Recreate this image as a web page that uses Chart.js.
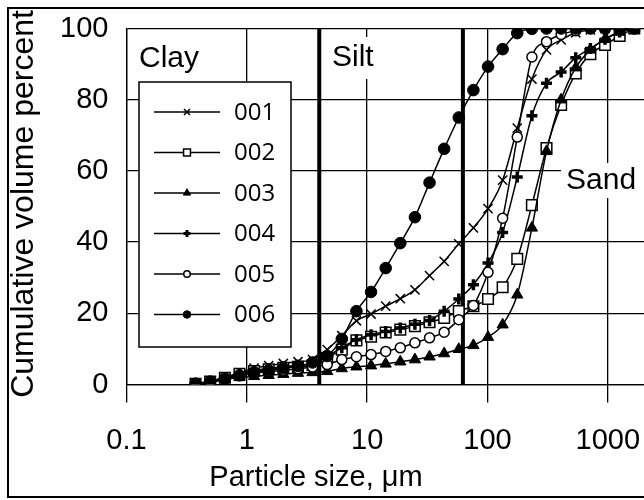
<!DOCTYPE html>
<html>
<head>
<meta charset="utf-8">
<script src="https://cdn.jsdelivr.net/npm/chart.js"></script>
<style>
  body { margin: 0; background: #fff; }
  #wrap { width: 644px; height: 500px; }
</style>
</head>
<body>
<div id="wrap"><canvas id="myChart" width="644" height="500"></canvas></div>
<script>
// particle size bins (um)
let sizes = [0.375, 0.496, 0.657, 0.869, 1.149, 1.52, 2.011, 2.66, 3.519, 4.655,
             6.158, 8.147, 10.78, 14.26, 18.86, 24.95, 33.01, 43.67, 57.77, 76.42,
             101.1, 133.7, 176.9, 234.1, 309.6, 409.6, 541.9, 716.8, 948.3, 1255, 1660];

// cumulative volume percent per sample
let s001 = [0.3, 0.9, 2.0, 3.3, 4.6, 5.3, 5.9, 6.4, 7.0, 9.8,
            13.7, 17.9, 19.8, 22.0, 24.1, 26.6, 30.6, 34.6, 39.5, 44.0,
            49.4, 57.4, 72.0, 85.8, 94.0, 96.8, 98.8, 99.6, 100, 100, 100];
let s002 = [0.2, 0.8, 1.9, 3.0, 3.8, 4.3, 4.7, 5.0, 5.4, 7.5,
            9.8, 12.4, 13.4, 14.6, 15.4, 16.4, 17.5, 18.7, 20.6, 22.0,
            24.0, 27.3, 35.3, 50.4, 66.4, 78.5, 87.4, 92.8, 95.4, 97.9, 100];
let s003 = [0.2, 0.6, 1.4, 2.0, 2.3, 2.6, 2.9, 3.2, 3.4, 3.7,
            4.5, 5.0, 5.3, 5.8, 6.4, 7.0, 7.8, 8.7, 9.9, 11.0,
            13.3, 16.8, 25.2, 44.0, 65.5, 80.0, 89.0, 94.0, 97.0, 99.0, 100];
let s004 = [0.2, 0.8, 1.9, 3.0, 3.9, 4.5, 5.0, 5.4, 5.8, 8.0,
            10.3, 12.6, 14.0, 14.9, 15.9, 16.9, 18.0, 20.6, 24.0, 28.0,
            34.1, 42.7, 58.3, 75.5, 84.6, 87.8, 91.8, 94.4, 97.0, 99.0, 100];
let s005 = [0.2, 0.7, 1.6, 2.5, 3.2, 3.6, 4.0, 4.4, 4.9, 5.6,
            7.0, 7.8, 8.4, 9.3, 10.3, 11.7, 13.1, 14.7, 18.2, 22.2,
            31.5, 46.7, 69.5, 92.0, 96.3, 98.3, 99.4, 100, 100, 100, 100];
let s006 = [0.2, 0.8, 1.7, 2.6, 3.4, 4.0, 4.6, 5.2, 6.2, 8.0,
            12.8, 20.6, 26.0, 32.7, 39.7, 47.0, 56.7, 66.2, 75.0, 82.7,
            89.3, 94.2, 98.7, 99.9, 100, 100, 100, 100, 100, 100, 100];

let seriesNames = ['001', '002', '003', '004', '005', '006'];
let boundaries = [4, 62.5];          // clay/silt and silt/sand limits, um
let zoneNames = ['Clay', 'Silt', 'Sand'];
let xTicks = [0.1, 1, 10, 100, 1000];
let xTitle = 'Particle size, \u03bcm';
let yTitle = 'Cumulative volume percent';

// marker look for each sample
let markers = [
  {style: 'crossRot', radius: 6.5, fill: '#000', bw: 1.5},
  {style: 'rect', radius: 7.5, fill: '#fff', bw: 1.5},
  {style: 'triangle', radius: 6.5, fill: '#000', bw: 1},
  {style: 'cross', radius: 5.5, fill: '#000', bw: 3.5},
  {style: 'circle', radius: 5, fill: '#fff', bw: 1.5},
  {style: 'circle', radius: 5.8, fill: '#000', bw: 1}
];

const FONT = "'Liberation Sans', Arial, sans-serif";

let allSeries = [s001, s002, s003, s004, s005, s006];
let datasets = [];

for (let b of boundaries) {
  datasets.push({
    label: 'limit',
    data: [{x: b, y: 0}, {x: b, y: 100}],
    borderColor: '#000',
    borderWidth: 4,
    pointRadius: 0,
    order: 10
  });
}

for (let i = 0; i < allSeries.length; i++) {
  let m = markers[i];
  datasets.push({
    label: seriesNames[i],
    data: sizes.map((s, k) => ({x: s, y: allSeries[i][k]})),
    borderColor: '#000',
    borderWidth: 1.5,
    cubicInterpolationMode: 'monotone',
    pointStyle: m.style,
    pointRadius: m.radius,
    pointBackgroundColor: m.fill,
    pointBorderColor: '#000',
    pointBorderWidth: m.bw,
    order: 6 - i
  });
}

const overlay = {
  id: 'overlay',
  afterDraw(chart) {
    const ctx = chart.ctx;
    ctx.save();

    // white boxes behind zone names
    ctx.fillStyle = '#fff';
    ctx.fillRect(329, 37, 52, 42);
    ctx.fillRect(561, 163, 90, 35);

    ctx.fillStyle = '#000';
    ctx.font = '30px ' + FONT;
    ctx.textBaseline = 'middle';
    ctx.textAlign = 'left';
    ctx.fillText(zoneNames[0], 139, 59);
    ctx.fillText(zoneNames[1], 332, 58);
    ctx.fillText(zoneNames[2], 566, 181);

    // legend box
    ctx.fillStyle = '#fff';
    ctx.fillRect(139, 82, 152, 265);
    ctx.strokeStyle = '#000';
    ctx.lineWidth = 1.5;
    ctx.strokeRect(139, 82, 152, 265);

    ctx.font = "24px 'Open Sans', sans-serif";
    for (let i = 0; i < seriesNames.length; i++) {
      let y = 112 + i * 40.5;
      let m = markers[i];
      ctx.strokeStyle = '#000';
      ctx.lineWidth = 1.5;
      ctx.beginPath();
      ctx.moveTo(154, y);
      ctx.lineTo(220, y);
      ctx.stroke();
      ctx.fillStyle = m.fill;
      ctx.lineWidth = m.style == 'cross' ? 3 : m.bw;
      Chart.helpers.drawPoint(ctx, {pointStyle: m.style, radius: m.radius * 0.65, rotation: 0, borderWidth: m.bw}, 187, y);
      ctx.fillStyle = '#000';
      ctx.fillText(seriesNames[i], 234, y + 1);
    }

    // axis titles
    ctx.font = '29px ' + FONT;
    ctx.textAlign = 'center';
    ctx.fillText(xTitle, 316, 478);

    ctx.translate(24, 204);
    ctx.rotate(-Math.PI / 2);
    ctx.font = '32px ' + FONT;
    ctx.fillText(yTitle, 0, 0);
    ctx.setTransform(1, 0, 0, 1, 0, 0);

    // outer frame
    ctx.strokeStyle = '#000';
    ctx.lineWidth = 2;
    ctx.strokeRect(8, 8, 700, 489);
    ctx.restore();
  }
};

let ctx = document.getElementById('myChart');
let myChart = new Chart(ctx, {
  type: 'line',
  data: {datasets: datasets},
  plugins: [overlay],
  options: {
    responsive: false,
    animation: false,
    devicePixelRatio: 1,
    layout: {autoPadding: false, padding: {top: 28.5, right: 0, bottom: 0, left: 0}},
    plugins: {legend: {display: false}, tooltip: {enabled: false}},
    scales: {
      x: {
        type: 'logarithmic',
        min: 0.1,
        max: 2000,
        bounds: 'data',
        afterBuildTicks: s => { s.ticks = xTicks.map(v => ({value: v})); },
        afterFit: s => { s.height = 115.5; s.paddingLeft = 0; s.paddingRight = 0; },
        ticks: {
          callback: v => String(v),
          font: {family: FONT, size: 29},
          color: '#000',
          padding: 21,
          maxRotation: 0,
          autoSkip: false
        },
        grid: {color: '#000', lineWidth: 1.3, tickLength: 18, tickColor: '#000', tickWidth: 1.3},
        border: {color: '#000', width: 1.3}
      },
      y: {
        min: 0,
        max: 100,
        afterFit: s => { s.width = 126.5; s.paddingTop = 0; s.paddingBottom = 0; },
        ticks: {
          stepSize: 20,
          font: {family: FONT, size: 29},
          color: '#000',
          padding: 18
        },
        grid: {color: '#000', lineWidth: 1.3, drawTicks: false},
        border: {color: '#000', width: 1.3}
      }
    }
  }
});
</script>
</body>
</html>
